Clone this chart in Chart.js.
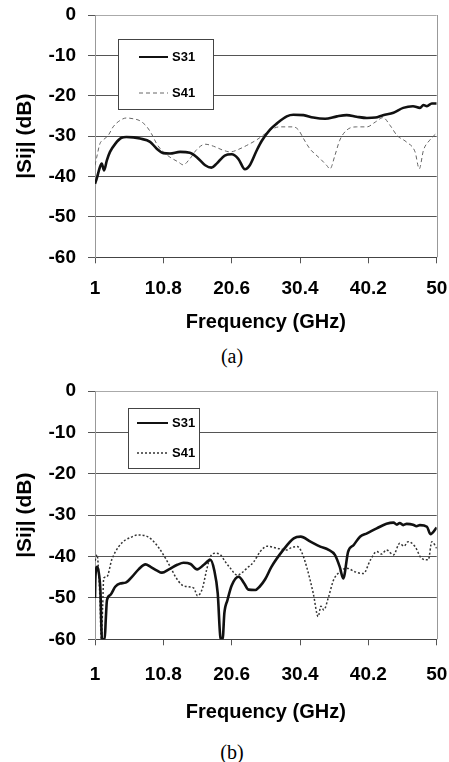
<!DOCTYPE html>
<html lang="en">
<head>
<meta charset="UTF-8">
<title>|Sij| vs Frequency</title>
<script src="https://cdn.jsdelivr.net/npm/chart.js"></script>
<style>
  body { margin: 0; background: #fff; width: 449px; height: 762px; position: relative; overflow: hidden; }
  canvas { position: absolute; left: 0; }
  #chartA { top: 0; }
  #chartB { top: 375px; }
  .caption {
    position: absolute; left: 0; width: 464px; text-align: center;
    font: 20px/20px "Liberation Serif", "Times New Roman", serif; color: #000;
  }
</style>
</head>
<body>
<canvas id="chartA" width="449" height="340"></canvas>
<div class="caption" style="top:346px">(a)</div>
<canvas id="chartB" width="449" height="355"></canvas>
<div class="caption" style="top:742px">(b)</div>

<script>
// axis ticks
const xTicks = [1, 10.8, 20.6, 30.4, 40.2, 50];
const yTicks = [-60, -50, -40, -30, -20, -10, 0];

// (a) S31
const a31Freq = [1, 1.25, 1.7, 1.96, 2.3, 2.7, 3.15, 3.9, 4.8, 5.5, 6.5, 7.45, 8.9, 9.85, 10.8, 11.75, 13.2, 14.6, 15.6, 16.8, 17.7, 18.45, 19.6, 20.6, 21.55, 22.5, 23.2, 24.2, 24.9, 26.1, 27.05, 28.5, 29.45, 30.9, 32.3, 34, 35.7, 37.1, 38.5, 40, 41.2, 42.3, 43.8, 45.2, 46.6, 47.6, 48.1, 48.6, 49.3, 50];
const a31dB = [-41.8, -40.5, -37.7, -36.8, -38.5, -36, -33.9, -31.9, -30.4, -30.2, -30.3, -30.6, -31.4, -33.1, -34.2, -34.3, -33.9, -34.1, -35.2, -37.2, -37.8, -36.8, -34.8, -34.5, -35.6, -38.2, -37.2, -33.5, -31.2, -28.4, -26.9, -25.1, -24.7, -24.8, -25.4, -25.7, -25.1, -24.8, -25.2, -25.5, -25.4, -24.8, -24.2, -23, -22.6, -23, -22.3, -22.6, -21.9, -21.9];

// (a) S41
const a41Freq = [1, 1.25, 1.7, 2.2, 2.9, 3.6, 4.6, 5.5, 6.5, 7.45, 8.4, 9.1, 9.85, 10.55, 11.75, 12.95, 13.65, 14.6, 15.6, 16.8, 18, 19.4, 20.4, 21.55, 22.75, 24.2, 25.4, 26.1, 27.5, 29.45, 30.2, 30.9, 31.8, 33.3, 34.2, 34.7, 35.4, 36.1, 37.1, 38.5, 40, 41.2, 42.3, 43.3, 44.3, 45.7, 46.9, 47.5, 48.1, 49, 50];
const a41dB = [-37.2, -35.2, -31.9, -30.9, -29.8, -27.7, -26.1, -25.5, -25.7, -26.2, -27.6, -29.4, -31.9, -33.5, -35.2, -36.4, -37.1, -35.6, -33.3, -32, -32.5, -33.5, -33.9, -33.3, -32.3, -30.9, -29.4, -28.5, -27.7, -27.7, -28.5, -30.6, -33.1, -35.6, -37.2, -38.1, -34.8, -31, -28.5, -27.7, -27.7, -26.5, -25.4, -27.3, -29.8, -31.5, -33.9, -38.1, -33.5, -31, -29.2];

// (b) S31
const b31Freq = [1, 1.06, 1.29, 1.5, 1.77, 2.0, 2.39, 2.55, 2.72, 3.2, 3.9, 4.6, 5.4, 6.3, 7.25, 8.25, 8.97, 9.9, 10.6, 11.6, 12.8, 13.7, 14.7, 15.65, 16.6, 17.55, 18.1, 18.6, 19.0, 19.3, 19.55, 20.0, 20.6, 21.6, 22.4, 23.0, 24.0, 24.6, 25.4, 26.3, 28.0, 29.5, 30.5, 31.9, 33.3, 34.5, 35.4, 36.1, 36.6, 37.3, 38.1, 39.0, 40.0, 41.4, 42.8, 43.8, 44.3, 44.7, 45.2, 45.7, 46.6, 47.1, 47.6, 48.6, 49.1, 50];
const b31dB = [-50, -45, -42.5, -43.5, -48, -60, -60, -55, -50.5, -49.3, -47.3, -46.5, -46.3, -44.9, -43.1, -41.9, -42.5, -43.4, -43.9, -43.1, -42, -41.5, -41.8, -43.1, -42, -40.8, -43.3, -48.9, -59.7, -60, -53.7, -50.5, -47, -44.9, -46.5, -48, -48.1, -47.3, -45.5, -42.5, -38.4, -35.6, -35.2, -36.4, -37.6, -38.4, -39.6, -42.5, -45.3, -38.8, -37.2, -35.2, -34.4, -33.2, -32.1, -31.8, -32.3, -31.9, -32.4, -32.1, -32.3, -32.7, -32.4, -32.8, -34.6, -33];

// (b) S41
const b41Freq = [1, 1.1, 1.29, 1.5, 1.7, 1.9, 2.1, 2.25, 2.7, 3.4, 4.4, 5.35, 6.1, 7.07, 8.25, 9.2, 10.2, 11.1, 11.8, 12.55, 13.5, 14.45, 15.2, 15.7, 16.4, 17, 17.55, 18.3, 19, 19.7, 20.4, 21.4, 22, 22.8, 23.75, 24.7, 25.7, 27.1, 28.5, 29.2, 30, 30.6, 31.4, 32.3, 33, 33.4, 33.8, 34.5, 35.2, 36.1, 37.1, 38.3, 39.5, 40.5, 41.4, 42.1, 42.8, 43.8, 44.7, 45.3, 45.9, 46.9, 47.8, 48.8, 49.3, 50];
const b41dB = [-41, -40.5, -39.6, -43, -50, -60, -52, -45.2, -44.9, -40.8, -37.6, -36, -35.4, -34.8, -35, -36, -38, -40.4, -42.5, -44.9, -46.9, -47.3, -47.7, -49.5, -47.7, -43.3, -40, -39.2, -39.6, -41.3, -42.8, -44.5, -44, -42.8, -41.3, -38.8, -37.5, -38, -38.4, -37.8, -37.6, -38.8, -42.8, -48.9, -54.5, -52, -52.9, -49.7, -45.7, -43.7, -42.8, -43.7, -44.1, -40.8, -38.8, -39.4, -38.4, -39.6, -36.8, -37.5, -36.4, -37.6, -40.4, -40.8, -36.4, -38];

const toPoints = (xs, ys) => xs.map((x, i) => ({ x: x, y: ys[i] }));

const FONT = '"Liberation Sans", Arial, sans-serif';

// boxed legend inside the plot
const boxLegend = {
  id: 'boxLegend',
  afterDraw(chart, args, o) {
    const ctx = chart.ctx;
    ctx.save();
    ctx.fillStyle = '#fff';
    ctx.fillRect(o.x, o.y, o.w, o.h);
    ctx.strokeStyle = '#444';
    ctx.lineWidth = 1;
    ctx.strokeRect(o.x + 0.5, o.y + 0.5, o.w, o.h);
    chart.data.datasets.forEach((ds, i) => {
      const y = o.rows[i];
      ctx.strokeStyle = ds.borderColor;
      ctx.lineWidth = ds.legendWidth || ds.borderWidth;
      ctx.setLineDash(ds.borderDash || []);
      ctx.beginPath();
      ctx.moveTo(o.lineX0, y);
      ctx.lineTo(o.lineX1, y);
      ctx.stroke();
      ctx.setLineDash([]);
      ctx.fillStyle = '#000';
      ctx.font = 'bold 13px ' + FONT;
      ctx.textBaseline = 'middle';
      ctx.fillText(ds.label, o.textX, y);
    });
    ctx.restore();
  }
};

// right edge of the plot frame
const rightFrame = {
  id: 'rightFrame',
  afterDatasetsDraw(chart) {
    const { ctx, chartArea } = chart;
    ctx.save();
    ctx.strokeStyle = '#999';
    ctx.lineWidth = 1;
    ctx.beginPath();
    ctx.moveTo(Math.round(chartArea.right) + 0.5, chartArea.top);
    ctx.lineTo(Math.round(chartArea.right) + 0.5, chartArea.bottom);
    ctx.stroke();
    ctx.restore();
  }
};

function makeChart(id, s31, s41, s41Style, lay) {
  return new Chart(document.getElementById(id), {
    type: 'line',
    data: {
      datasets: [
        {
          label: 'S31', data: s31, borderColor: '#111', borderWidth: 2.6, legendWidth: 2,
          pointRadius: 0, tension: 0.3, cubicInterpolationMode: 'monotone'
        },
        Object.assign({ label: 'S41', data: s41, pointRadius: 0, tension: 0.3, cubicInterpolationMode: 'monotone' }, s41Style)
      ]
    },
    options: {
      responsive: false,
      animation: false,
      layout: { padding: { top: lay.top, right: 12.3, bottom: 0, left: 0 } },
      scales: {
        x: {
          type: 'linear', min: 1, max: 50,
          afterBuildTicks: s => { s.ticks = xTicks.map(v => ({ value: v })); },
          afterFit: s => { s.height = lay.xHeight; s.paddingLeft = 0; s.paddingRight = 0; },
          ticks: {
            color: '#000', padding: lay.xPad, maxRotation: 0, autoSkip: false,
            font: { family: FONT, size: 19, weight: 'bold', lineHeight: 1.2 },
            callback: v => String(v)
          },
          grid: { drawOnChartArea: false, drawTicks: true, tickLength: 6, tickColor: '#555' },
          border: { color: '#444', width: 1 },
          title: {
            display: true, text: 'Frequency (GHz)', color: '#000',
            font: { family: FONT, size: 20, weight: 'bold', lineHeight: 1 },
            padding: { top: 0, bottom: lay.titlePad }
          }
        },
        y: {
          min: -60, max: 0,
          afterBuildTicks: s => { s.ticks = yTicks.map(v => ({ value: v })); },
          afterFit: s => { s.width = 95; s.paddingTop = 0; s.paddingBottom = 0; },
          ticks: {
            color: '#000', padding: 12,
            font: { family: FONT, size: 19, weight: 'bold', lineHeight: 1.2 },
            callback: v => String(v)
          },
          grid: {
            color: c => (c.tick && c.tick.value === 0 ? '#aaa' : '#555'),
            tickColor: '#555', tickLength: 7
          },
          border: { color: '#999', width: 1 },
          title: {
            display: true, text: '|Sij| (dB)', color: '#000',
            font: { family: FONT, size: 21, weight: 'bold', lineHeight: 1 },
            padding: { top: 15, bottom: 0 }
          }
        }
      },
      plugins: {
        legend: { display: false },
        tooltip: { enabled: false },
        boxLegend: lay.legend
      }
    },
    plugins: [boxLegend, rightFrame]
  });
}

makeChart('chartA', toPoints(a31Freq, a31dB), toPoints(a41Freq, a41dB),
  { borderColor: '#666', borderWidth: 1, borderDash: [4, 3] },
  {
    top: 15, xHeight: 82.7, xPad: 13.6, titlePad: 8,
    legend: { x: 118, y: 39, w: 95, h: 70, lineX0: 139, lineX1: 168, textX: 172, rows: [57, 93] }
  });

makeChart('chartB', toPoints(b31Freq, b31dB), toPoints(b41Freq, b41dB),
  { borderColor: '#333', borderWidth: 1.5, borderDash: [2, 2] },
  {
    top: 16, xHeight: 90.7, xPad: 18, titlePad: 7.8,
    legend: { x: 128, y: 33, w: 71, h: 60, lineX0: 137, lineX1: 168, textX: 172, rows: [48, 78] }
  });
</script>
</body>
</html>
